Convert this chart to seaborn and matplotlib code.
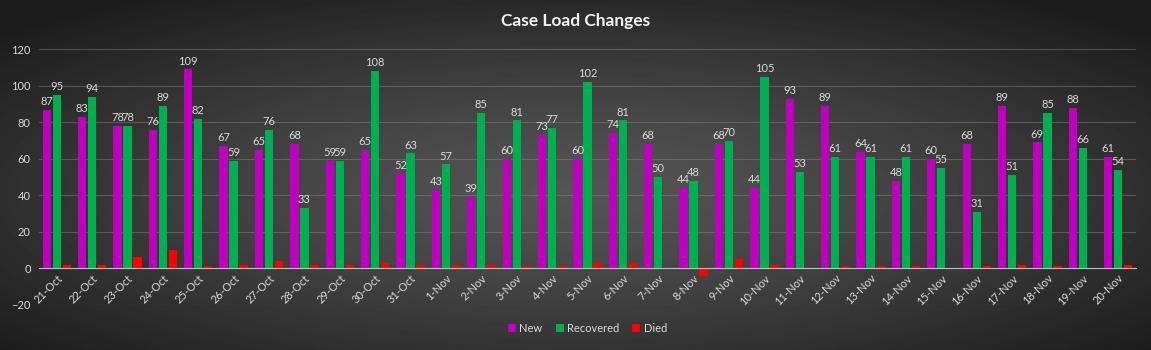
import numpy as np
import pandas as pd
import matplotlib.pyplot as plt
import seaborn as sns

# daily case load data
dates = ['21-Oct', '22-Oct', '23-Oct', '24-Oct', '25-Oct', '26-Oct', '27-Oct', '28-Oct',
         '29-Oct', '30-Oct', '31-Oct', '1-Nov', '2-Nov', '3-Nov', '4-Nov', '5-Nov',
         '6-Nov', '7-Nov', '8-Nov', '9-Nov', '10-Nov', '11-Nov', '12-Nov', '13-Nov',
         '14-Nov', '15-Nov', '16-Nov', '17-Nov', '18-Nov', '19-Nov', '20-Nov']
new = [87, 83, 78, 76, 109, 67, 65, 68, 59, 65, 52, 43, 39, 60, 73, 60,
       74, 68, 44, 68, 44, 93, 89, 64, 48, 60, 68, 89, 69, 88, 61]
recovered = [95, 94, 78, 89, 82, 59, 76, 33, 59, 108, 63, 57, 85, 81, 77, 102,
             81, 50, 48, 70, 105, 53, 61, 61, 61, 55, 31, 51, 85, 66, 54]
died = [2, 2, 6, 10, 1, 2, 4, 2, 2, 3, 2, 2, 2, 1, 1, 3,
        3, 0, -4, 5, 2, 0, 1, 1, 1, 0, 1, 2, 1, 0, 2]

df = pd.DataFrame({'Date': dates, 'New': new, 'Recovered': recovered, 'Died': died})
long_df = df.melt(id_vars='Date', var_name='Series', value_name='Count')

colors = {'New': '#C000C0', 'Recovered': '#00B050', 'Died': '#FF0000'}
txt = '#d9d9d9'

sns.set_style('dark')
plt.rcParams['font.family'] = ['Lato', 'DejaVu Sans']

fig = plt.figure(figsize=(11.51, 3.5), dpi=100)

# radial grey background
bg = fig.add_axes([0, 0, 1, 1], zorder=0)
yy, xx = np.mgrid[-1:1:350j, -1:1:1151j]
r = np.sqrt(xx ** 2 + (yy - 0.1) ** 2)
shade = 0.33 - 0.22 * np.clip(r / 1.35, 0, 1) ** 1.3
bg.imshow(shade, cmap='gray', vmin=0, vmax=1, aspect='auto')
bg.axis('off')

ax = fig.add_axes([0.0339, 0.1291, 0.953, 0.730], zorder=1)
ax.patch.set_alpha(0)

sns.barplot(data=long_df, x='Date', y='Count', hue='Series', palette=colors,
            width=0.85, ax=ax, saturation=1, linewidth=0, edgecolor='none')

# slimmer bars, same centres
for p in ax.patches:
    c = p.get_x() + p.get_width() / 2
    p.set_width(0.235)
    p.set_x(c - 0.1175)

for cont in ax.containers[:2]:
    ax.bar_label(cont, padding=2, color=txt, fontsize=8)

ax.set_ylim(-20, 120)
ax.set_xlim(-0.5, len(dates) - 0.5)
ax.set_yticks(range(-20, 121, 20))
ax.set_xlabel('')
ax.set_ylabel('')
ax.grid(axis='y', color='#8a8a8a', alpha=0.45, linewidth=0.8)
ax.grid(axis='x', visible=False)
ax.set_axisbelow(True)

for s in ['left', 'right', 'top']:
    ax.spines[s].set_visible(False)
ax.spines['bottom'].set_position(('data', 0))
ax.spines['bottom'].set_color('#bfbfbf')
ax.spines['bottom'].set_linewidth(0.8)

ax.tick_params(axis='y', length=0, labelcolor=txt, labelsize=8, pad=6)
ax.tick_params(axis='x', which='major', length=0, labelcolor=txt, labelsize=8, pad=3)
ax.set_xticks(np.arange(-0.5, len(dates), 1), minor=True)
ax.tick_params(axis='x', which='minor', length=4, color='#bfbfbf', direction='out')
plt.setp(ax.get_xticklabels(), rotation=45, ha='right', rotation_mode='anchor')

sns.move_legend(ax, 'center', bbox_to_anchor=(0.5, -0.092), ncol=3,
                frameon=False, title=None, fontsize=8, handlelength=0.7,
                handleheight=0.7, handletextpad=0.3, columnspacing=1.2, labelcolor=txt)

fig.text(0.5, 0.94, 'Case Load Changes', ha='center', va='center',
         color='#f2f2f2', fontsize=12.5, fontweight='bold')

fig.savefig('out.png', dpi=100)
